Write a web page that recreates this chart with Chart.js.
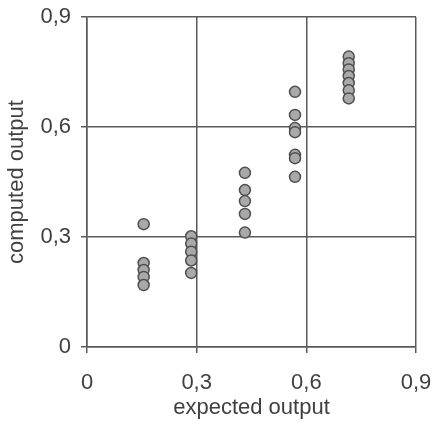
<!DOCTYPE html>
<html>
  <head>
    <title>Expected vs computed output</title>
    <script src="https://cdn.jsdelivr.net/npm/chart.js"></script>
    <style>
      html, body {
        margin: 0;
        padding: 0;
        background: #ffffff;
      }
      .chart-box {
        width: 433px;
        height: 430px;
      }
    </style>
  </head>
  <body>
    <div class="chart-box">
      <canvas id="outputChart" width="433" height="430"></canvas>
    </div>
    <script>
      // expected output value of each group (x)
      var expected = [0.155, 0.285, 0.432, 0.569, 0.716];
      // computed outputs for each group (y)
      var computed1 = [0.335, 0.229, 0.21, 0.191, 0.169];
      var computed2 = [0.302, 0.282, 0.26, 0.236, 0.202];
      var computed3 = [0.475, 0.428, 0.398, 0.363, 0.312];
      var computed4 = [0.696, 0.633, 0.597, 0.586, 0.524, 0.515, 0.464];
      var computed5 = [0.792, 0.774, 0.757, 0.739, 0.72, 0.7, 0.678];
      var ticks = [0, 0.3, 0.6, 0.9];

      var groups = [computed1, computed2, computed3, computed4, computed5];
      var points = [];
      groups.forEach(function(list, i) {
        list.forEach(function(v) {
          points.push({ x: expected[i], y: v });
        });
      });

      var lineColor = '#5a5a5a';
      var textColor = '#404040';
      var fontFamily = '"Liberation Sans", Arial, sans-serif';

      function commaLabel(value) {
        if (ticks.indexOf(Math.round(value * 10) / 10) < 0) return '';
        return value === 0 ? '0' : String(value).replace('.', ',');
      }

      new Chart(document.getElementById('outputChart').getContext('2d'), {
        type: 'scatter',
        data: {
          datasets: [{
            data: points,
            backgroundColor: '#a9a9a9',
            borderColor: '#4f4f4f',
            borderWidth: 1.5,
            pointRadius: 5.5,
            pointHoverRadius: 5.5
          }]
        },
        options: {
          responsive: false,
          animation: false,
          layout: {
            padding: { top: 17, right: 17, left: 0, bottom: 0 }
          },
          plugins: {
            legend: { display: false },
            tooltip: { enabled: false }
          },
          scales: {
            x: {
              min: 0,
              max: 0.9,
              afterFit: function(scale) {
                scale.height = 83;
                scale.paddingLeft = 0;
                scale.paddingRight = 0;
              },
              ticks: {
                stepSize: 0.3,
                color: textColor,
                padding: 17,
                font: { family: fontFamily, size: 22 },
                callback: commaLabel
              },
              grid: {
                color: lineColor,
                lineWidth: 1.5,
                tickLength: 6
              },
              border: { color: lineColor, width: 1.5 },
              title: {
                display: true,
                text: 'expected output',
                color: textColor,
                font: { family: fontFamily, size: 22 },
                padding: { top: 2, bottom: 9 }
              }
            },
            y: {
              min: 0,
              max: 0.9,
              afterFit: function(scale) {
                scale.width = 87;
                scale.paddingTop = 0;
                scale.paddingBottom = 0;
              },
              ticks: {
                stepSize: 0.3,
                color: textColor,
                padding: 10,
                font: { family: fontFamily, size: 22 },
                callback: commaLabel
              },
              grid: {
                color: lineColor,
                lineWidth: 1.5,
                tickLength: 6
              },
              border: { color: lineColor, width: 1.5 },
              title: {
                display: true,
                text: 'computed output',
                color: textColor,
                font: { family: fontFamily, size: 22 },
                padding: { bottom: 2 }
              }
            }
          }
        }
      });
    </script>
  </body>
</html>
